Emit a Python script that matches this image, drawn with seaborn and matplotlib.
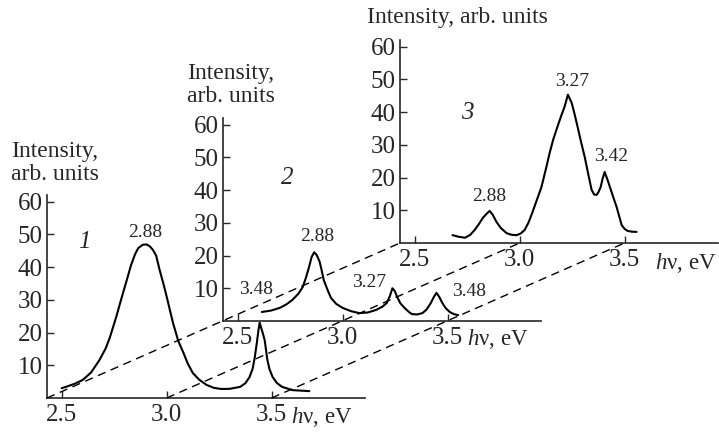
import numpy as np
import pandas as pd
import matplotlib
matplotlib.use("Agg")
import matplotlib.pyplot as plt
from matplotlib.lines import Line2D
import seaborn as sns

# ---------------- data ----------------
e1 = [2.50, 2.52, 2.56, 2.60, 2.64, 2.68, 2.71, 2.73, 2.76, 2.785, 2.81, 2.83, 2.85,
      2.865, 2.886, 2.905, 2.92, 2.935, 2.95, 2.967, 2.985, 3.00, 3.03, 3.055, 3.08,
      3.10, 3.125, 3.155, 3.19, 3.225, 3.26, 3.30, 3.35, 3.375, 3.395, 3.41, 3.42,
      3.43, 3.438, 3.443, 3.45, 3.458, 3.467, 3.48, 3.49, 3.505, 3.525, 3.55, 3.60, 3.68]
v1 = [3.0, 3.4, 4.3, 5.5, 7.8, 11.6, 15.2, 18.6, 24.8, 30.5, 36.0, 40.5, 44.0,
      45.8, 46.8, 46.9, 46.3, 45.2, 43.5, 39.0, 34.8, 31.0, 23.0, 17.5, 13.8,
      10.6, 7.6, 5.6, 4.0, 3.1, 2.75, 2.8, 3.4, 4.5, 6.4, 9.0, 12.5,
      17.0, 21.0, 23.0, 21.5, 19.8, 17.7, 11.6, 8.8, 6.4, 4.6, 3.4, 2.4, 2.1]

e2 = [2.615, 2.66, 2.70, 2.73, 2.76, 2.79, 2.81, 2.825, 2.84, 2.852, 2.864, 2.876,
      2.89, 2.90, 2.91, 2.93, 2.945, 2.97, 3.00, 3.04, 3.08, 3.12, 3.16, 3.19,
      3.21, 3.225, 3.237, 3.248, 3.26, 3.275, 3.295, 3.315, 3.33, 3.355, 3.38,
      3.40, 3.42, 3.435, 3.447, 3.46, 3.475, 3.49, 3.51, 3.53, 3.55]
v2 = [2.75, 3.2, 4.0, 5.0, 6.4, 8.4, 10.4, 13.2, 16.5, 19.5, 21.0, 20.2,
      18.2, 15.5, 12.5, 9.2, 7.0, 5.2, 4.0, 3.0, 2.4, 2.6, 3.4, 4.4,
      5.5, 7.6, 10.0, 9.2, 7.3, 5.4, 4.0, 2.8, 2.1, 2.0, 2.4,
      3.5, 5.5, 7.4, 8.6, 7.4, 5.5, 4.0, 2.75, 2.1, 1.8]

e3 = [2.68, 2.71, 2.74, 2.765, 2.786, 2.805, 2.824, 2.842, 2.857, 2.872, 2.89, 2.91,
      2.938, 2.962, 2.986, 3.005, 3.024, 3.042, 3.06, 3.08, 3.104, 3.125, 3.143,
      3.16, 3.18, 3.20, 3.214, 3.23, 3.248, 3.262, 3.276, 3.292, 3.31, 3.327, 3.343,
      3.355, 3.367, 3.376, 3.386, 3.395, 3.405, 3.418, 3.43, 3.446, 3.462, 3.475,
      3.486, 3.50, 3.514, 3.535, 3.557]
v3 = [2.4, 1.9, 1.6, 2.5, 4.0, 5.7, 7.6, 8.9, 9.8, 8.6, 6.4, 4.6,
      3.0, 2.5, 2.4, 2.9, 4.0, 6.2, 9.2, 12.8, 17.1, 22.6, 27.5,
      31.6, 35.5, 39.2, 41.6, 45.3, 42.8, 39.3, 35.5, 31.0, 26.3, 21.0, 16.2,
      14.8, 14.7, 15.6, 17.1, 19.6, 21.7, 19.4, 17.1, 14.0, 11.0, 8.0,
      5.5, 4.3, 3.7, 3.45, 3.4]

panel_names = ["1", "2", "3"]
x_ticks = [2.5, 3.0, 3.5]
x_tick_labels = ["2.5", "3.0", "3.5"]
y_ticks = [10, 20, 30, 40, 50, 60]
y_tick_labels = ["10", "20", "30", "40", "50", "60"]

peak_labels_1 = ["2.88", "3.48"]
peak_pos_1 = [(2.90, 50.5), (3.425, 33.0)]
peak_labels_2 = ["2.88", "3.27", "3.48"]
peak_pos_2 = [(2.878, 25.7), (3.127, 11.9), (3.60, 8.9)]
peak_labels_3 = ["2.88", "3.27", "3.42"]
peak_pos_3 = [(2.857, 14.1), (3.248, 49.2), (3.438, 26.3)]

# ---------------- style ----------------
sns.set_style("ticks")
plt.rcParams["font.family"] = ["Liberation Serif", "DejaVu Serif"]
plt.rcParams["mathtext.fontset"] = "custom"
plt.rcParams["mathtext.rm"] = "Liberation Serif"
plt.rcParams["mathtext.it"] = "Liberation Serif:italic"

W, H = 719, 432
fig = plt.figure(figsize=(W / 100, H / 100), dpi=100)
fig.patch.set_facecolor("white")

XMIN, XMAX = 2.43, 3.945
YMAX = 62
ax_w, ax_h = 318, 203
origins = [(47, 398), (223, 321), (400, 243)]   # panel layout (px)

TICK_FS = 18
LAB_FS = 17
PEAK_FS = 14
UNIT_FS = 16.5

def px(x, y):
    return x / W, 1 - y / H

curves = [(e1, v1), (e2, v2), (e3, v3)]
peaks = [(peak_labels_1, peak_pos_1), (peak_labels_2, peak_pos_2), (peak_labels_3, peak_pos_3)]
num_pos = [(2.61, 47.7), (2.734, 43.7), (2.752, 39.8)]

axes = []
for i, ((ox, oy), (e, v)) in enumerate(zip(origins, curves)):
    l, b = px(ox, oy)
    ax = fig.add_axes([l, b, ax_w / W, ax_h / H])
    ax.patch.set_alpha(0)
    df = pd.DataFrame({"E": e, "I": v})
    sns.lineplot(data=df, x="E", y="I", ax=ax, color="black", lw=1.5,
                 estimator=None, sort=False)
    ax.lines[-1].set_solid_joinstyle("round")
    ax.set_xlim(XMIN, XMAX)
    ax.set_ylim(0, YMAX)
    ax.set_xticks(x_ticks)
    ax.set_xticklabels(x_tick_labels)
    ax.set_yticks(y_ticks)
    ax.set_yticklabels(y_tick_labels)
    ax.set_xlabel("")
    ax.set_ylabel("")
    for s in ["top", "right"]:
        ax.spines[s].set_visible(False)
    for s in ["left", "bottom"]:
        ax.spines[s].set_linewidth(1.2)
    ax.tick_params(direction="in", length=5, width=1, labelsize=TICK_FS, pad=3)
    ax.tick_params(axis="x", pad=4)
    for lab, (xe, yv) in zip(*peaks[i]):
        ax.text(xe, yv, lab, fontsize=PEAK_FS, ha="center", va="center", clip_on=False)
    ax.text(num_pos[i][0], num_pos[i][1], panel_names[i], fontsize=TICK_FS,
            style="italic", ha="center", va="center")
    axes.append(ax)

# axis titles
fig.text(*px(11, 163), "Intensity,\narb. units", fontsize=LAB_FS, ha="left",
         va="center", linespacing=1.1)
fig.text(*px(187, 85), "Intensity,\narb. units", fontsize=LAB_FS, ha="left",
         va="center", linespacing=1.1)
fig.text(*px(367, 18), "Intensity, arb. units", fontsize=LAB_FS, ha="left", va="center")

# energy unit labels
for (x, y) in [(291, 417), (467, 339), (655, 263)]:
    fig.text(*px(x, y), r"$h$ν, eV", fontsize=UNIT_FS, ha="left", va="center")

# dashed perspective lines joining equal energies of the three panels
inv = fig.transFigure.inverted()
for E in [XMIN, 3.0, 3.5]:
    pts = np.array([inv.transform(ax.transData.transform((E, 0))) for ax in axes])
    fig.add_artist(Line2D([pts[0, 0], pts[-1, 0]], [pts[0, 1], pts[-1, 1]],
                          transform=fig.transFigure, color="black", lw=1.0,
                          ls=(0, (6, 4))))

fig.savefig("out.png", dpi=100, facecolor="white")
